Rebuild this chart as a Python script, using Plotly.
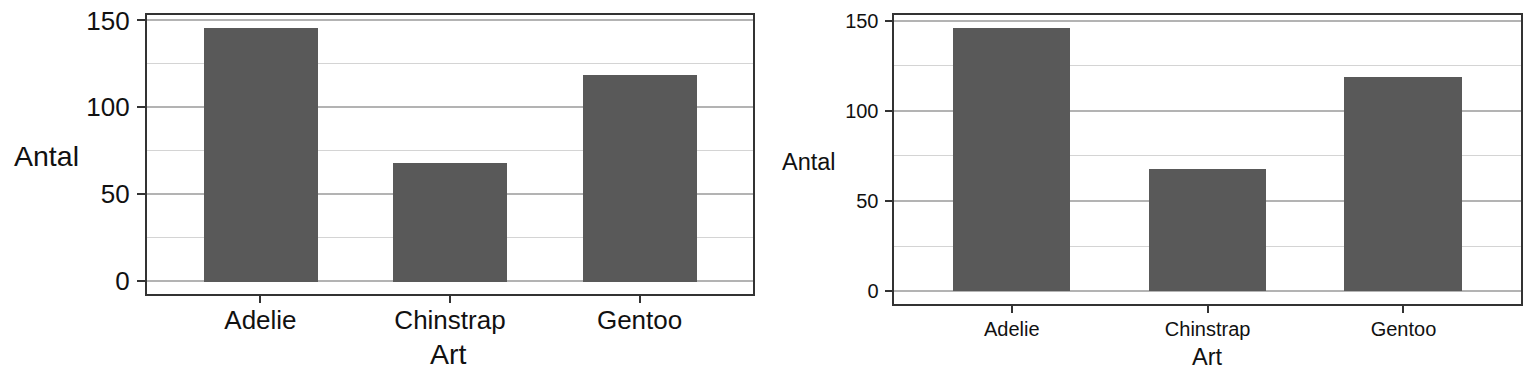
import plotly.graph_objects as go

species = ["Adelie", "Chinstrap", "Gentoo"]
counts = [146, 68, 119]
y_ticks = [0, 50, 100, 150]
x_title = "Art"
y_title = "Antal"

W, H = 1536, 384
FONT = "Liberation Sans, Arial, sans-serif"
BAR = "#595959"
LINE = "#333333"

fig = go.Figure()
fig.add_trace(go.Bar(x=species, y=counts, marker_color=BAR, marker_line_width=0,
                     width=0.6, xaxis="x", yaxis="y", showlegend=False))
fig.add_trace(go.Bar(x=species, y=counts, marker_color=BAR, marker_line_width=0,
                     width=0.6, xaxis="x2", yaxis="y2", showlegend=False))

def px_x(v):
    return v / W

def px_y(v):
    return 1 - v / H

def xaxis(domain, fs, standoff):
    return dict(domain=domain, range=[-0.6, 2.6], type="category",
                automargin=False,
                showgrid=False, zeroline=False, showline=True, mirror=True,
                linecolor=LINE, linewidth=1.6, ticks="outside", ticklen=7,
                tickwidth=1.6, tickcolor=LINE, ticklabelstandoff=standoff,
                tickfont=dict(family=FONT, size=fs, color="#111111"))

def yaxis(domain, fs, standoff, anchor):
    return dict(domain=domain, range=[-7.3, 153.3], anchor=anchor,
                automargin=False,
                tickvals=y_ticks, showgrid=True, gridcolor="#b3b3b3",
                gridwidth=1.6, zeroline=False, showline=True, mirror=True,
                linecolor=LINE, linewidth=1.6, ticks="outside", ticklen=8,
                tickwidth=1.6, tickcolor=LINE, ticklabelstandoff=standoff,
                tickfont=dict(family=FONT, size=fs, color="#111111"),
                minor=dict(dtick=25, tick0=0, showgrid=True,
                           gridcolor="#d4d4d4", gridwidth=1))

fig.update_layout(
    width=W, height=H, margin=dict(l=0, r=0, t=0, b=0, autoexpand=False),
    paper_bgcolor="white", plot_bgcolor="white", bargap=0,
    xaxis=dict(**xaxis([px_x(146.7), px_x(753.3)], 26, -5), anchor="y"),
    yaxis=yaxis([px_y(294), px_y(14.7)], 26, 2, "x"),
    xaxis2=dict(**xaxis([px_x(894.3), px_x(1521)], 20, -1), anchor="y2"),
    yaxis2=yaxis([px_y(304.3), px_y(14.7)], 20, 2, "x2"),
    annotations=[
        dict(text=y_title, x=px_x(46.5), y=px_y(156), xref="paper", yref="paper",
             showarrow=False, xanchor="center", yanchor="middle",
             font=dict(family=FONT, size=28.5, color="#111111")),
        dict(text=x_title, x=px_x(448.7), y=px_y(354), xref="paper", yref="paper",
             showarrow=False, xanchor="center", yanchor="middle",
             font=dict(family=FONT, size=28.5, color="#111111")),
        dict(text=y_title, x=px_x(809), y=px_y(162), xref="paper", yref="paper",
             showarrow=False, xanchor="center", yanchor="middle",
             font=dict(family=FONT, size=23.5, color="#111111")),
        dict(text=x_title, x=px_x(1207), y=px_y(357), xref="paper", yref="paper",
             showarrow=False, xanchor="center", yanchor="middle",
             font=dict(family=FONT, size=23.5, color="#111111")),
    ],
)

fig.write_html("out.html",
               config={"displayModeBar": False},
               post_script="document.body.style.margin='0';"
                           "document.body.style.overflow='hidden';")
